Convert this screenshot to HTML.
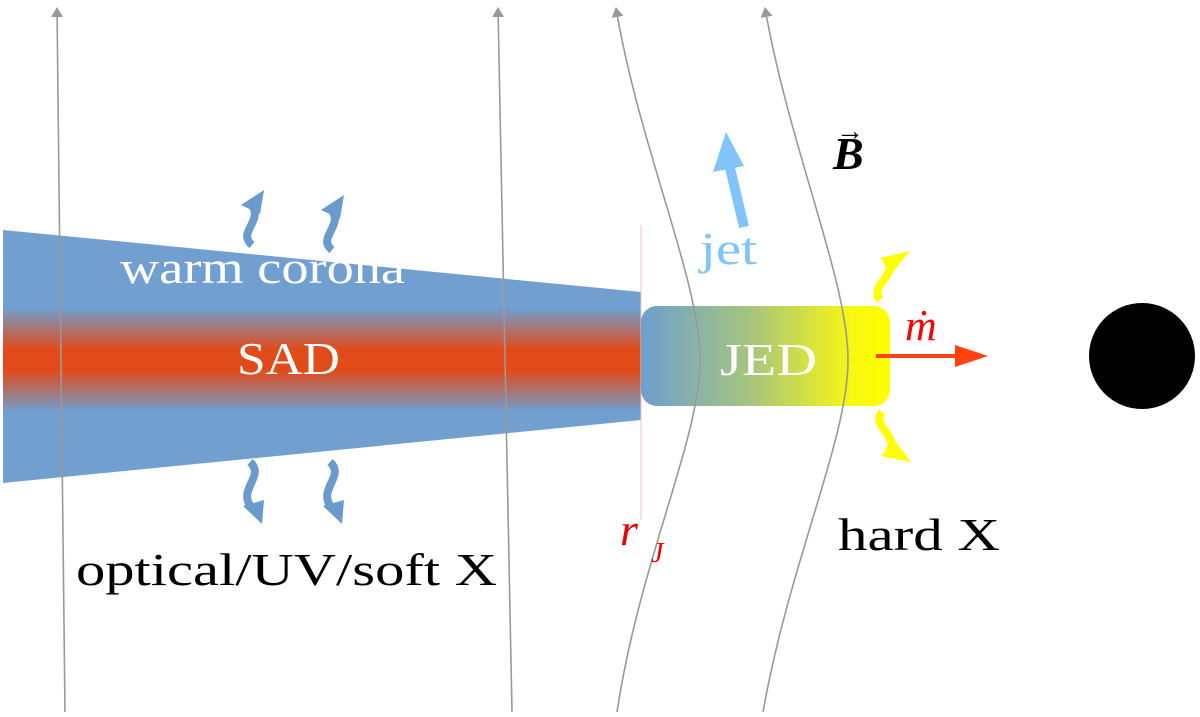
<!DOCTYPE html>
<html><head><style>body{margin:0;background:#fff}svg{display:block}</style></head><body>
<svg width="1200" height="717" viewBox="0 0 1200 717" xmlns="http://www.w3.org/2000/svg" font-family="Liberation Serif, serif">
<defs>
<linearGradient id="band" x1="0" y1="0" x2="0" y2="1">
<stop offset="0" stop-color="#709fd0"/><stop offset="0.4" stop-color="#e14b1a"/><stop offset="0.6" stop-color="#e14b1a"/><stop offset="1" stop-color="#709fd0"/></linearGradient>
<linearGradient id="jed" x1="0" y1="0" x2="1" y2="0">
<stop offset="0" stop-color="#6d9fd0"/><stop offset="0.45" stop-color="#a8c67c"/><stop offset="0.85" stop-color="#f8f810"/><stop offset="1" stop-color="#ffff00"/></linearGradient>
<marker id="ah" markerWidth="10" markerHeight="12" refX="9" refY="6" orient="auto" markerUnits="userSpaceOnUse"><path d="M0,0 L10,6 L0,12z" fill="#999"/></marker>
</defs>
<polygon points="3,230 641,292 641,420 3,483" fill="#709fd0"/>
<rect x="3" y="308" width="638" height="104" fill="url(#band)"/>
<line x1="641" y1="225" x2="641" y2="520" stroke="#f6c0c0" stroke-width="1"/>
<rect x="641" y="306" width="249" height="100" rx="16" fill="url(#jed)"/>
<g stroke="#999" stroke-width="1.6" fill="none">
<path d="M65,712 L57,8" marker-end="url(#ah)"/>
<path d="M512,712 L498,8" marker-end="url(#ah)"/>
<path d="M617,712 C640,560 700,440 700,360 C700,280 640,150 616,8" marker-end="url(#ah)"/>
<path d="M763,712 C790,560 848,440 848,360 C848,280 790,150 765,8" marker-end="url(#ah)"/>
</g>
<circle cx="1142" cy="356" r="53" fill="#000"/>
<line x1="744" y1="227" x2="730" y2="168" stroke="#80c4fa" stroke-width="10"/>
<polygon points="726,132 713,172 744,166" fill="#80c4fa"/>
<line x1="876" y1="356" x2="960" y2="356" stroke="#ff4010" stroke-width="4"/>
<polygon points="955,345 988,356 955,367" fill="#ff4010"/>
<g fill="none" stroke-width="8">
<path d="M252,245 C236,232 266,220 250,203" stroke="#6a9bcc"/>
<path d="M332,250 C316,237 346,225 330,208" stroke="#6a9bcc"/>
<path d="M250,462 C266,476 236,490 252,508" stroke="#6a9bcc"/>
<path d="M330,462 C346,476 316,490 332,508" stroke="#6a9bcc"/>
<path d="M880,300 C868,285 900,275 886,260" stroke="#ffff00"/>
<path d="M882,412 C870,426 902,438 888,452" stroke="#ffff00"/>
</g>
<g>
<polygon points="241,205 264,190 260,214" fill="#6a9bcc"/>
<polygon points="321,210 344,195 340,219" fill="#6a9bcc"/>
<polygon points="243,506 262,524 264,500" fill="#6a9bcc"/>
<polygon points="323,506 342,524 344,500" fill="#6a9bcc"/>
<polygon points="880,258 910,251 893,272" fill="#ffff00"/>
<polygon points="881,456 911,462 895,441" fill="#ffff00"/>
</g>
<text x="120" y="283" fill="#fff" font-size="46" textLength="285" lengthAdjust="spacingAndGlyphs">warm corona</text>
<text x="237" y="374" fill="#fff" font-size="46" textLength="103" lengthAdjust="spacingAndGlyphs">SAD</text>
<text x="720" y="375" fill="#fff" font-size="46" textLength="97" lengthAdjust="spacingAndGlyphs">JED</text>
<text x="700" y="264" fill="#80c4fa" font-size="46" textLength="57" lengthAdjust="spacingAndGlyphs">jet</text>
<text x="833" y="169" fill="#000" font-size="46" font-style="italic" font-weight="bold">B</text>
<text x="836" y="140" fill="#000" font-size="28" font-weight="bold">→</text>
<text x="905" y="340" fill="#f00" font-size="44" font-style="italic">ṁ</text>
<text x="620" y="545" fill="#e00" font-size="46" font-style="italic">r</text>
<text x="651" y="562" fill="#e00" font-size="28" font-style="italic">J</text>
<text x="838" y="550" fill="#000" font-size="46" textLength="162" lengthAdjust="spacingAndGlyphs">hard X</text>
<text x="76" y="585" fill="#000" font-size="46" textLength="421" lengthAdjust="spacingAndGlyphs">optical/UV/soft X</text>
</svg>
</body></html>
